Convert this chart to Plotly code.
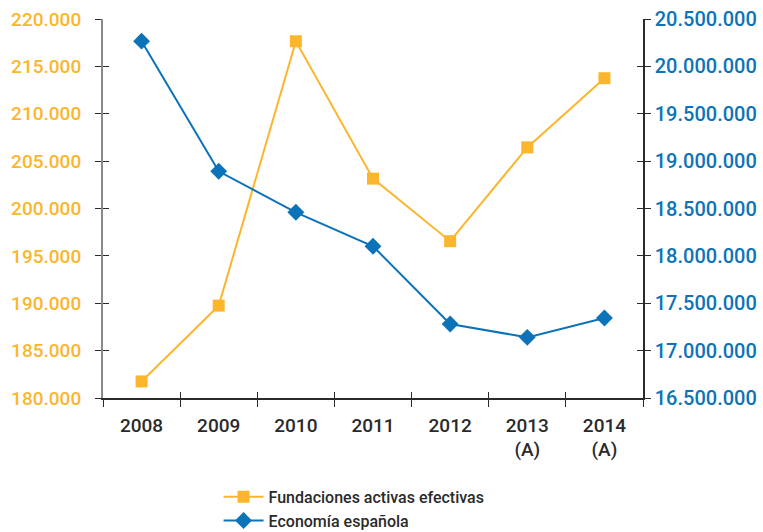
import plotly.graph_objects as go

years = ["2008", "2009", "2010", "2011", "2012", "2013<br>(A)", "2014<br>(A)"]
fundaciones = [181750, 189750, 217650, 203150, 196550, 206450, 213750]
economia = [20266000, 18893000, 18460000, 18101000, 17281000, 17140000, 17345000]

left_ticks = [180000, 185000, 190000, 195000, 200000, 205000, 210000, 215000, 220000]
right_ticks = [16500000, 17000000, 17500000, 18000000, 18500000, 19000000, 19500000, 20000000, 20500000]

ORANGE = "#FBB62C"
BLUE = "#0D73B9"
FONT = "Roboto"
DARK = "#2a2a2a"

fig = go.Figure()
fig.add_trace(go.Scatter(
    x=years, y=fundaciones, name="Fundaciones activas efectivas",
    mode="lines+markers", line=dict(color=ORANGE, width=2),
    marker=dict(symbol="square", size=12, color=ORANGE), yaxis="y"))
fig.add_trace(go.Scatter(
    x=years, y=economia, name="Economía española",
    mode="lines+markers", line=dict(color=BLUE, width=2),
    marker=dict(symbol="diamond", size=13, color=BLUE), yaxis="y2"))

n = len(years)
boundaries = [i - 0.5 for i in range(n + 1)]

fig.update_layout(
    width=763, height=532,
    margin=dict(l=103, r=120, t=19, b=134, autoexpand=False),
    paper_bgcolor="white", plot_bgcolor="white",
    separators=",.",
    font=dict(family=FONT, color=DARK, size=16),
    xaxis=dict(
        type="category", range=[-0.5, n - 0.5], tickson="boundaries",
        ticks="outside", ticklen=7, tickcolor=DARK, tickwidth=1,
        showline=True, linecolor=DARK, linewidth=1.5,
        showgrid=False, zeroline=False, automargin=False,
        ticklabelstandoff=9,
        tickfont=dict(size=19, color=DARK, family=FONT, weight=500),
    ),
    xaxis2=dict(
        overlaying="x", range=[-0.5, n - 0.5], tickvals=boundaries,
        ticks="inside", ticklen=6, tickcolor=DARK, tickwidth=1,
        showticklabels=False, showline=False, showgrid=False,
        zeroline=False, anchor="y", side="bottom", automargin=False,
    ),
    yaxis=dict(
        range=[180000, 220000], tickvals=left_ticks, tickformat=",d",
        ticks="outside", ticklen=6, tickcolor=DARK,
        showline=True, linecolor="#8a8a8a", linewidth=2,
        showgrid=False, zeroline=False, automargin=False,
        ticklabelstandoff=10,
        tickfont=dict(size=19, color=ORANGE, family=FONT, weight=500),
    ),
    yaxis3=dict(
        overlaying="y", range=[180000, 220000], tickvals=left_ticks,
        ticks="inside", ticklen=6, tickcolor=DARK,
        showticklabels=False, showline=False, showgrid=False,
        zeroline=False, side="left", anchor="x", automargin=False,
    ),
    yaxis2=dict(
        range=[16500000, 20500000], tickvals=right_ticks, tickformat=",d",
        overlaying="y", side="right",
        ticks="outside", ticklen=6, tickcolor=DARK,
        showline=True, linecolor=DARK, linewidth=1.5,
        showgrid=False, zeroline=False, automargin=False,
        tickfont=dict(size=20, color=BLUE, family=FONT, weight=500),
    ),
    yaxis4=dict(
        overlaying="y", side="right", range=[16500000, 20500000], tickvals=right_ticks,
        ticks="inside", ticklen=6, tickcolor=DARK,
        showticklabels=False, showline=False, showgrid=False,
        zeroline=False, anchor="x", automargin=False,
    ),
    legend=dict(
        orientation="v", x=0.214, xanchor="left", y=-0.216, yanchor="top",
        font=dict(size=16, color=DARK, family=FONT, weight=500),
        tracegroupgap=0, itemwidth=40,
    ),
    showlegend=True,
)

# invisible helper traces so overlay axes render their ticks
fig.add_trace(go.Scatter(x=[-0.5, n - 0.5], y=[180000, 220000], xaxis="x2", yaxis="y3",
                         mode="markers", marker=dict(opacity=0), showlegend=False, hoverinfo="skip"))
fig.add_trace(go.Scatter(x=[-0.5, n - 0.5], y=[16500000, 20500000], xaxis="x2", yaxis="y4",
                         mode="markers", marker=dict(opacity=0), showlegend=False, hoverinfo="skip"))

fig.write_html("out.html", config={"displayModeBar": False},
               post_script="document.body.style.margin='0';document.body.style.overflow='hidden';")
